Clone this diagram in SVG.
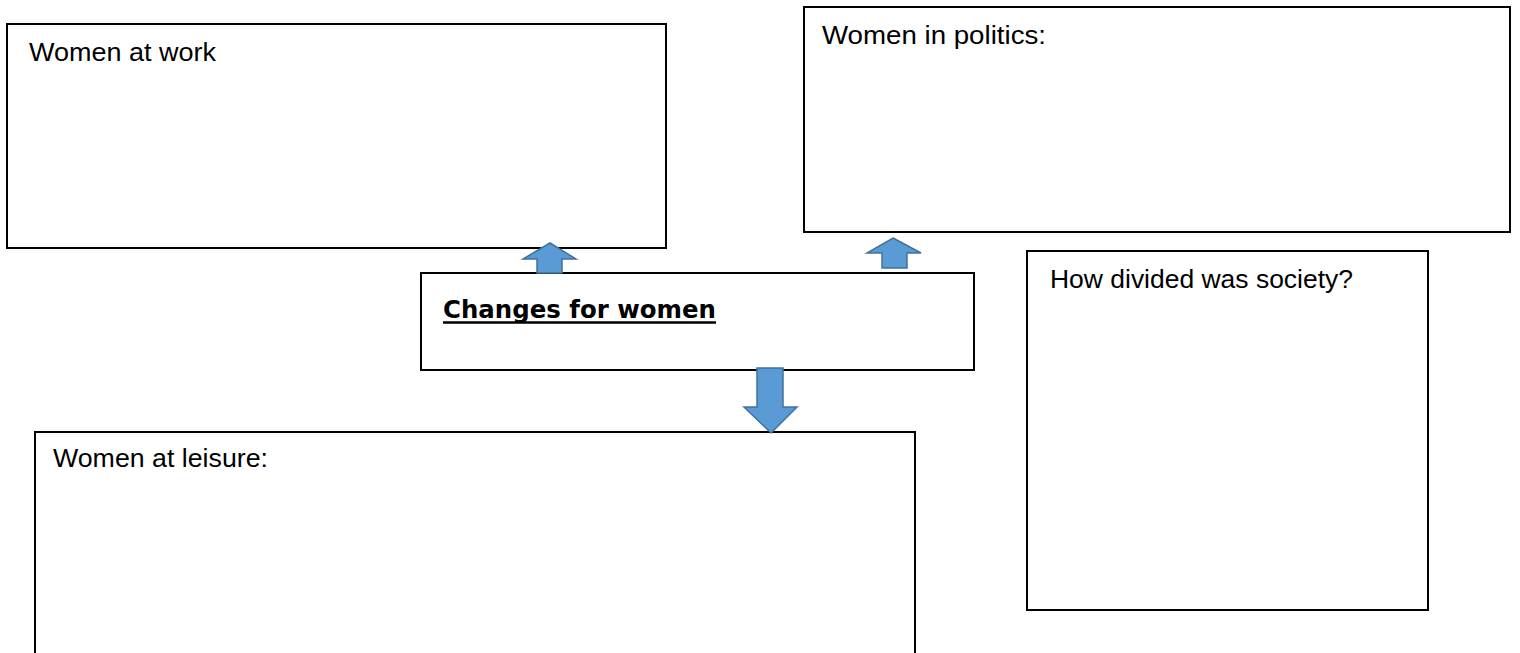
<svg xmlns="http://www.w3.org/2000/svg" width="1520" height="653" viewBox="0 0 1520 653">
<style>
.box{fill:#fff;stroke:#000;stroke-width:2}
.lbl{font-family:"Liberation Sans",Arial,sans-serif;font-size:26px;fill:#000}
.ttl{font-family:"DejaVu Sans",sans-serif;font-weight:bold;font-size:25px;fill:#000}
.arr{fill:#5B9BD5;stroke:#41719C;stroke-width:1.5;stroke-linejoin:miter}
</style>
<rect width="1520" height="653" fill="#fff"/>
<g id="work"><rect class="box" x="7" y="24" width="659" height="224"/><text class="lbl" x="29" y="61" textLength="187" lengthAdjust="spacingAndGlyphs">Women at work</text></g>
<g id="politics"><rect class="box" x="804" y="7" width="706" height="225"/><text class="lbl" x="822" y="44" textLength="224" lengthAdjust="spacingAndGlyphs">Women in politics:</text></g>
<g id="society"><rect class="box" x="1027" y="251" width="401" height="359"/><text class="lbl" x="1050" y="288" textLength="303" lengthAdjust="spacingAndGlyphs">How divided was society?</text></g>
<g id="center"><rect class="box" x="421" y="273" width="553" height="97"/><text class="ttl" x="443" y="318" textLength="273" lengthAdjust="spacingAndGlyphs">Changes for women</text><line x1="443" y1="322.5" x2="716" y2="322.5" stroke="#000" stroke-width="2.5"/></g>
<g id="leisure"><rect class="box" x="35" y="432" width="880" height="240"/><text class="lbl" x="53" y="467" textLength="215" lengthAdjust="spacingAndGlyphs">Women at leisure:</text></g>
<g id="connectors">
<polygon class="arr" points="550,243 576,259 562,259 562,273 537,273 537,259 523,259"/>
<polygon class="arr" points="893,238 921,253 907,253 907,268 882,268 882,253 867,253"/>
<polygon class="arr" points="757,368 783,368 783,407 797,407 771,433 744,407 757,407"/>
</g>
</svg>
